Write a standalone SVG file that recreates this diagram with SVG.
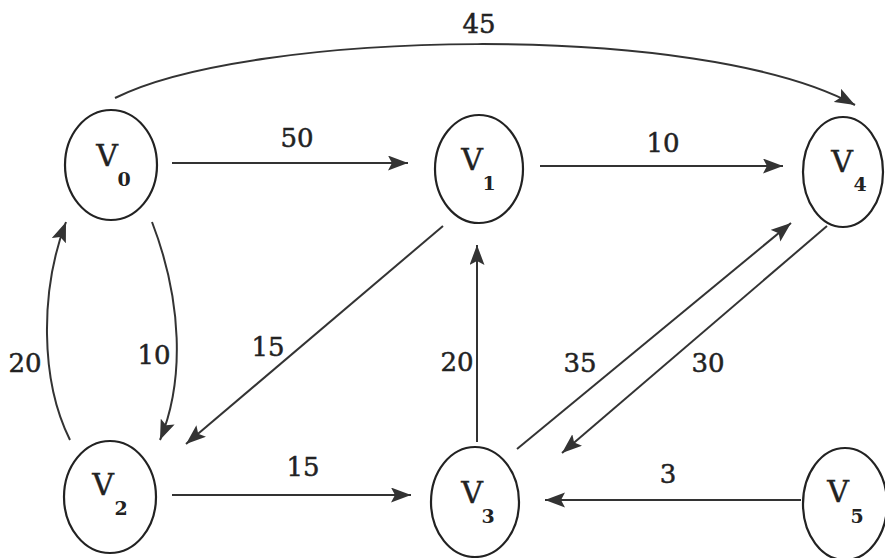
<svg xmlns="http://www.w3.org/2000/svg" width="885" height="558" viewBox="0 0 885 558">
<style>
.node{fill:none;stroke:#222;stroke-width:2.2}
.v{font-family:"DejaVu Serif",serif;font-size:30px;fill:#222;stroke:#222;stroke-width:0.4;text-anchor:middle}
.s{font-family:"DejaVu Serif",serif;font-size:19px;fill:#222;text-anchor:middle;font-weight:bold}
.e{fill:none;stroke:#333;stroke-width:2;marker-end:url(#ah)}
.l{font-family:"DejaVu Serif",serif;font-size:26px;fill:#222;stroke:#222;stroke-width:0.5;text-anchor:middle}
</style>
<defs>
<marker id="ah" markerUnits="userSpaceOnUse" markerWidth="22" markerHeight="16" refX="20" refY="7.5" orient="auto">
<path d="M0,0 L20,7.5 L0,15 L4,7.5 z" fill="#333"/>
</marker>
</defs>
<rect width="885" height="558" fill="#ffffff"/>
<g id="connectors">
<path class="e" d="M115,98 C250,30 700,20 855,105"/>
<path class="e" d="M172,163 L408,163"/>
<path class="e" d="M540,166 L783,166"/>
<path class="e" d="M152,222 C182,300 185,380 160,440"/>
<path class="e" d="M70,440 C40,380 40,290 66,222"/>
<path class="e" d="M443,226 L186,444"/>
<path class="e" d="M172,495 L411,495"/>
<path class="e" d="M477,442 L477,245"/>
<path class="e" d="M517,449 L791,223"/>
<path class="e" d="M827,226 L562,453"/>
<path class="e" d="M801,500 L545,500"/>
<text class="l" x="479" y="33">45</text>
<text class="l" x="297" y="147">50</text>
<text class="l" x="663" y="152">10</text>
<text class="l" x="25" y="372">20</text>
<text class="l" x="154" y="364">10</text>
<text class="l" x="268" y="356">15</text>
<text class="l" x="303" y="476">15</text>
<text class="l" x="457" y="371">20</text>
<text class="l" x="580" y="372">35</text>
<text class="l" x="708" y="372">30</text>
<text class="l" x="668" y="483">3</text>
</g>
<g id="V0">
<ellipse class="node" cx="111" cy="165" rx="46" ry="55"/>
<text class="v" x="107" y="166">V</text><text class="s" x="124" y="186">0</text>
</g>
<g id="V1">
<ellipse class="node" cx="479" cy="169" rx="44" ry="54"/>
<text class="v" x="472" y="170">V</text><text class="s" x="489" y="190">1</text>
</g>
<g id="V4">
<ellipse class="node" cx="843" cy="172" rx="40" ry="55"/>
<text class="v" x="842" y="172">V</text><text class="s" x="860" y="191">4</text>
</g>
<g id="V2">
<ellipse class="node" cx="110" cy="497" rx="46" ry="56"/>
<text class="v" x="103" y="495">V</text><text class="s" x="121" y="515">2</text>
</g>
<g id="V3">
<ellipse class="node" cx="475" cy="502" rx="44" ry="55"/>
<text class="v" x="472" y="503">V</text><text class="s" x="488" y="523">3</text>
</g>
<g id="V5">
<ellipse class="node" cx="845" cy="504" rx="42" ry="56"/>
<text class="v" x="838" y="502">V</text><text class="s" x="857" y="523">5</text>
</g>
</svg>
